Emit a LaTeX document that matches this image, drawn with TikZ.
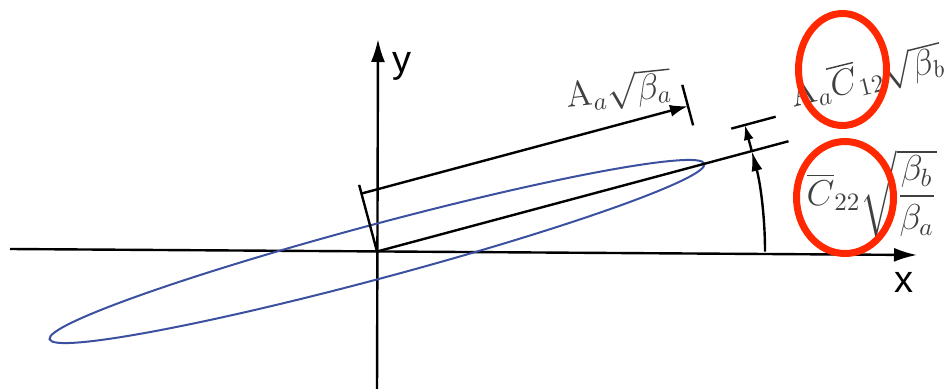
\documentclass[tikz,border=0pt]{standalone}
\usepackage{amsmath}
\usepackage{fontspec}
\newfontfamily\axisfont{Liberation Sans}
\usetikzlibrary{arrows.meta,calc}
\definecolor{ellblue}{RGB}{60,80,160}
\definecolor{markred}{RGB}{255,40,0}
\tikzset{
  axis/.style={line width=0.96pt,-{Latex[length=9.2pt,width=5.6pt]}},
  thinline/.style={line width=0.96pt},
  dimarrow/.style={line width=0.96pt,-{Latex[length=7.2pt,width=4.8pt]}},
  arcarrow/.style={line width=0.96pt,-{Latex[length=8pt,width=4.4pt]}},
  smallarrow/.style={line width=0.96pt,-{Latex[length=6pt,width=4pt]}},
  axlabel/.style={inner sep=0pt,font=\axisfont\fontsize{15.2}{16}\selectfont},
  mlabel/.style={inner sep=0pt,text=black!75,font=\fontsize{14.4}{16}\selectfont},
  redmark/.style={draw=markred,line width=2.8pt}
}
\begin{document}
\begin{tikzpicture}[x=0.4pt,y=0.4pt]
\useasboundingbox (0,0) rectangle (945,388);
\coordinate (O) at (377,136.5);
\coordinate (xs) at (10,139);
\coordinate (xe) at (917,133);
\coordinate (ys) at (377,-5);
\coordinate (ye) at (378,349);
\draw[axis] (xs) -- (xe);
\draw[axis] (ys) -- (ye);
\node[axlabel,anchor=base west] (xl) at (894,96) {x};
\node[axlabel,anchor=base west] (yl) at (392,316) {y};

\begin{scope}[shift={(O)},rotate=15]
  \draw[ellblue,line width=0.8pt] (0,0) ellipse [x radius=339,y radius=27];
  \coordinate (o) at (0,0);
  \coordinate (L) at (426,0);
  \coordinate (ext) at (0,69);
  \coordinate (d0) at (0,60);
  \coordinate (d1) at (338,60);
  \coordinate (t0) at (338,40);
  \coordinate (t1) at (338,82);
  \coordinate (u0) at (374,27);
  \coordinate (u1) at (420,27);
  \coordinate (A1) at (388,0);
  \coordinate (A2) at (388,27);
\end{scope}

\draw[thinline] (o) -- (L);
\draw[thinline] (o) -- (ext);
\draw[dimarrow] (d0) -- (d1);
\draw[thinline] (t0) -- (t1);
\draw[thinline] (u0) -- (u1);
\coordinate (A0) at ($(O)+(388,0)$);
\draw[arcarrow] (A0) arc[start angle=0,end angle=15,radius=388];
\draw[smallarrow] (A1) -- (A2);

\node[mlabel,anchor=base west,rotate=6] (la) at (567,280) {$\mathrm{A}_a\sqrt{\beta_a}$};
\node[mlabel,anchor=base west,rotate=14] (lb) at (793,280) {$\mathrm{A}_a\overline{C}_{12}\sqrt{\beta_b}$};
\node[mlabel,anchor=base west] (lc) at (806,183) {$\overline{C}_{22}\sqrt{\dfrac{\beta_b}{\beta_a}}$};

\draw[redmark] (842.5,318.5) ellipse [x radius=44,y radius=56];
\draw[redmark] (845,190.5) ellipse [x radius=48.5,y radius=56];
\end{tikzpicture}
\end{document}
